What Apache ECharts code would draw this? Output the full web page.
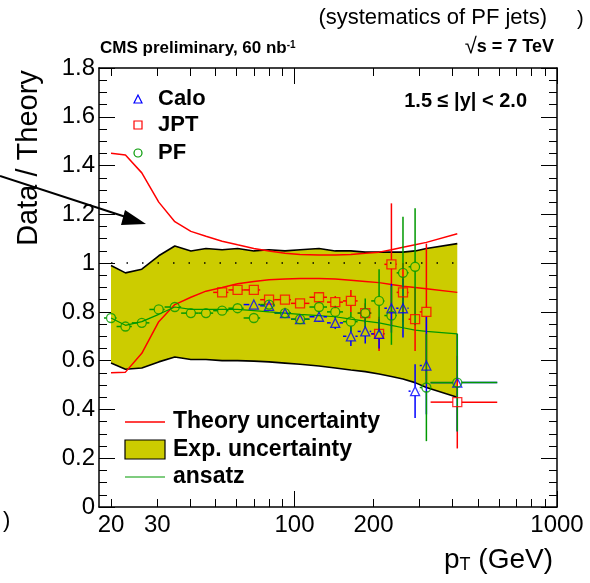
<!DOCTYPE html>
<html><head><meta charset="utf-8">
<script src="https://cdn.jsdelivr.net/npm/echarts@6/dist/echarts.min.js"></script>
<style>html,body{margin:0;padding:0;background:#fff}#c{width:590px;height:583px}</style>
</head><body><div id="c"></div>
<script>
// ---- data ----
const ptBins = [20, 22.7, 26.2, 30.4, 35, 40.3, 46, 53, 60.7, 70, 80, 92, 105, 124, 143, 164, 186, 210, 234, 259, 288, 318, 417];
const binEdges = [18.8, 21, 24, 28, 32, 37, 43, 49, 56, 64, 74, 84, 97, 114, 133, 153, 174, 196, 220, 245, 272, 300, 330, 592];
const expUpper = [0.99, 0.96, 0.975, 1.03, 1.07, 1.05, 1.06, 1.055, 1.06, 1.05, 1.055, 1.05, 1.055, 1.06, 1.05, 1.05, 1.045, 1.045, 1.045, 1.045, 1.05, 1.06, 1.08];
const expLower = [0.59, 0.565, 0.57, 0.595, 0.615, 0.605, 0.605, 0.60, 0.60, 0.598, 0.595, 0.59, 0.585, 0.578, 0.57, 0.562, 0.555, 0.545, 0.535, 0.525, 0.51, 0.49, 0.45];
const theoryUpper = [1.45, 1.443, 1.37, 1.25, 1.17, 1.13, 1.11, 1.09, 1.075, 1.06, 1.05, 1.04, 1.035, 1.033, 1.033, 1.035, 1.04, 1.045, 1.055, 1.065, 1.075, 1.085, 1.12];
const theoryLower = [0.55, 0.553, 0.63, 0.76, 0.83, 0.86, 0.885, 0.90, 0.915, 0.925, 0.932, 0.935, 0.937, 0.937, 0.935, 0.93, 0.925, 0.92, 0.912, 0.905, 0.90, 0.895, 0.88];
const ansatz = [0.775, 0.745, 0.76, 0.79, 0.82, 0.81, 0.81, 0.81, 0.81, 0.805, 0.80, 0.795, 0.79, 0.785, 0.78, 0.77, 0.762, 0.755, 0.745, 0.735, 0.725, 0.72, 0.71];
// PF: all bins
const pfY   = [0.775, 0.74, 0.755, 0.81, 0.82, 0.795, 0.795, 0.805, 0.815, 0.775, 0.83, 0.795, 0.77, 0.82, 0.80, 0.76, 0.795, 0.845, 0.785, 0.96, 0.985, 0.49, 0.51];
const pfErr = [0.01, 0.01, 0.01, 0.01, 0.01, 0.01, 0.01, 0.01, 0.01, 0.01, 0.01, 0.01, 0.015, 0.02, 0.025, 0.04, 0.06, 0.13, 0.12, 0.23, 0.24, 0.22, 0.2];
// JPT: from bin 7 (53 GeV)
const jptStart = 7;
const jptY   = [0.88, 0.89, 0.89, 0.85, 0.85, 0.835, 0.86, 0.84, 0.845, 0.795, 0.71, 0.995, 0.88, 0.77, 0.80, 0.43];
const jptErr = [0.01, 0.01, 0.01, 0.01, 0.01, 0.015, 0.02, 0.025, 0.045, 0.04, 0.07, 0.25, 0.12, 0.13, 0.28, 0.19];
// Calo: from bin 9 (70 GeV)
const caloStart = 9;
const caloY   = [0.83, 0.825, 0.795, 0.77, 0.78, 0.755, 0.70, 0.72, 0.71, 0.815, 0.815, 0.475, 0.58, 0.51];
const caloErr = [0.01, 0.01, 0.01, 0.015, 0.02, 0.025, 0.04, 0.05, 0.06, 0.1, 0.12, 0.11, 0.2, 0.2];
const xLabelValues = [20, 30, 100, 200, 1000];
const xMinorTicks = [20, 30, 40, 50, 60, 70, 80, 90, 200, 300, 400, 500, 600, 700, 800, 900];
const xMajorTicks = [100, 1000];

// ---- build ----
const FONT = "'Liberation Sans', Arial, sans-serif";
const RED = '#ff0000', GREEN = '#009900', BLUE = '#0000ff', BAND = '#cccc00';
const pairs = (ys, start) => ys.map((v, i) => [ptBins[i + (start || 0)], v]);
const errData = (ys, errs, start) => ys.map((v, i) => {
  const k = i + (start || 0);
  return [ptBins[k], v, binEdges[k], binEdges[k + 1], errs[i]];
});

function errRender(color) {
  return function (params, api) {
    const x = api.value(0), y = api.value(1), xl = api.value(2), xh = api.value(3), e = api.value(4);
    const c = api.coord([x, y]);
    const cl = api.coord([xl, y]), ch = api.coord([xh, y]);
    const ct = api.coord([x, y + e]), cb = api.coord([x, y - e]);
    const g = 4.5, ch2 = [];
    const seg = (x1, y1, x2, y2) => ch2.push({ type: 'line', shape: { x1, y1, x2, y2 }, style: { stroke: color, lineWidth: 1.5 } });
    if (c[0] - cl[0] > g) seg(cl[0], c[1], c[0] - g, c[1]);
    if (ch[0] - c[0] > g) seg(c[0] + g, c[1], ch[0], c[1]);
    if (c[1] - ct[1] > g) seg(c[0], ct[1], c[0], c[1] - g);
    if (cb[1] - c[1] > g) seg(c[0], c[1] + g, c[0], cb[1]);
    return { type: 'group', children: ch2 };
  };
}

function bandRender(params, api) {
  if (params.dataIndex !== 0) return null;
  const pts = [];
  for (let i = 0; i < ptBins.length; i++) pts.push(api.coord([ptBins[i], expUpper[i]]));
  for (let i = ptBins.length - 1; i >= 0; i--) pts.push(api.coord([ptBins[i], expLower[i]]));
  return { type: 'polygon', shape: { points: pts }, style: { fill: BAND, stroke: 'none' } };
}

const xBase = { type: 'log', logBase: 10, min: 18, max: 1000, gridIndex: 0, splitLine: { show: false } };
const yBase = { type: 'value', min: 0, max: 1.8, interval: 0.2, gridIndex: 0, splitLine: { show: false } };
const lineAx = { show: true, lineStyle: { color: '#000', width: 1.5 } };

const chart = echarts.init(document.getElementById('c'), null, { renderer: 'canvas' });
chart.setOption({
  animation: false,
  backgroundColor: '#fff',
  grid: { left: 99, right: 33, top: 68, bottom: 76 },
  xAxis: [
    Object.assign({}, xBase, { position: 'bottom', axisLine: lineAx,
      axisTick: { show: true, inside: true, length: 8, customValues: xMinorTicks, lineStyle: { color: '#000', width: 1 } },
      axisLabel: { show: true, customValues: xLabelValues, color: '#000', fontSize: 24, fontFamily: FONT, margin: 6, formatter: v => String(v) } }),
    Object.assign({}, xBase, { position: 'bottom', axisLine: { show: false },
      axisTick: { show: true, inside: true, length: 16, customValues: xMajorTicks, lineStyle: { color: '#000', width: 1 } },
      axisLabel: { show: false } }),
    Object.assign({}, xBase, { position: 'top', axisLine: lineAx,
      axisTick: { show: true, inside: true, length: 8, customValues: xMinorTicks, lineStyle: { color: '#000', width: 1 } },
      axisLabel: { show: false } }),
    Object.assign({}, xBase, { position: 'top', axisLine: { show: false },
      axisTick: { show: true, inside: true, length: 16, customValues: xMajorTicks, lineStyle: { color: '#000', width: 1 } },
      axisLabel: { show: false } })
  ],
  yAxis: [
    Object.assign({}, yBase, { position: 'left', axisLine: lineAx,
      axisTick: { show: true, inside: true, length: 16, lineStyle: { color: '#000', width: 1 } },
      minorTick: { show: true, splitNumber: 4, length: 8, lineStyle: { color: '#000', width: 1 } },
      axisLabel: { show: true, color: '#000', fontSize: 24, fontFamily: FONT, margin: 4, formatter: v => String(+(+v).toFixed(1)) } }),
    Object.assign({}, yBase, { position: 'right', axisLine: lineAx,
      axisTick: { show: true, inside: true, length: 16, lineStyle: { color: '#000', width: 1 } },
      minorTick: { show: true, splitNumber: 4, length: 8, lineStyle: { color: '#000', width: 1 } },
      axisLabel: { show: false } })
  ],
  series: [
    { type: 'custom', name: 'Exp. uncertainty', renderItem: bandRender, data: pairs(expUpper), z: 1, silent: true },
    { type: 'line', name: 'band upper', data: pairs(expUpper), showSymbol: false, symbol: 'none', lineStyle: { color: '#000', width: 1.6 }, z: 2 },
    { type: 'line', name: 'band lower', data: pairs(expLower), showSymbol: false, symbol: 'none', lineStyle: { color: '#000', width: 1.6 }, z: 2 },
    { type: 'line', name: 'unity', data: [[ptBins[0], 1], [ptBins[ptBins.length - 1], 1]], symbol: 'none', lineStyle: { color: '#000', width: 1.5, type: [1.5, 14] }, z: 2 },
    { type: 'line', name: 'Theory upper', data: pairs(theoryUpper), symbol: 'none', lineStyle: { color: RED, width: 1.5 }, z: 3 },
    { type: 'line', name: 'Theory lower', data: pairs(theoryLower), symbol: 'none', lineStyle: { color: RED, width: 1.5 }, z: 3 },
    { type: 'line', name: 'ansatz', data: pairs(ansatz), symbol: 'none', lineStyle: { color: GREEN, width: 1.2 }, z: 3 },
    { type: 'custom', name: 'JPT err', renderItem: errRender(RED), data: errData(jptY, jptErr, jptStart), z: 4 },
    { type: 'custom', name: 'Calo err', renderItem: errRender(BLUE), data: errData(caloY, caloErr, caloStart), z: 4 },
    { type: 'custom', name: 'PF err', renderItem: errRender(GREEN), data: errData(pfY, pfErr, 0), z: 4 },
    { type: 'scatter', name: 'JPT', data: pairs(jptY, jptStart), symbol: 'rect', symbolSize: 9, itemStyle: { color: 'rgba(0,0,0,0)', borderColor: RED, borderWidth: 1.3 }, z: 5 },
    { type: 'scatter', name: 'Calo', data: pairs(caloY, caloStart), symbol: 'triangle', symbolSize: 9, itemStyle: { color: 'rgba(0,0,0,0)', borderColor: BLUE, borderWidth: 1.3 }, z: 5 },
    { type: 'scatter', name: 'PF', data: pairs(pfY, 0), symbol: 'circle', symbolSize: 9, itemStyle: { color: 'rgba(0,0,0,0)', borderColor: GREEN, borderWidth: 1.3 }, z: 5 }
  ],
  graphic: [
    // header texts
    { type: 'text', x: 547, y: 7, style: { text: '(systematics of PF jets)', font: '22px ' + FONT, fill: '#000', textAlign: 'right' } },
    { type: 'text', x: 577, y: 9, style: { text: ')', font: '20px ' + FONT, fill: '#000' } },
    { type: 'text', x: 100, y: 40, style: { rich: { a: { font: 'bold 17px ' + FONT, fill: '#000' }, s: { font: 'bold 10px ' + FONT, fill: '#000', verticalAlign: 'top', lineHeight: 10 } }, text: '{a|CMS preliminary, 60 nb}{s|-1}' } },
    { type: 'text', x: 554, y: 36, style: { rich: { r: { font: '22px ' + FONT, fill: '#000' }, a: { font: 'bold 18px ' + FONT, fill: '#000' } }, text: '{r|\u221A}{a|s = 7 TeV}', textAlign: 'right' } },
    { type: 'text', x: 527, y: 91, style: { text: '1.5 \u2264 |y| < 2.0', font: 'bold 20px ' + FONT, fill: '#000', textAlign: 'right' } },
    // axis titles
    { type: 'text', x: 29, y: 158, rotation: Math.PI / 2, style: { text: 'Data / Theory', font: '29px ' + FONT, fill: '#000', textAlign: 'center', textVerticalAlign: 'middle' } },
    { type: 'text', x: 553, y: 546, style: { rich: { a: { font: '28px ' + FONT, fill: '#000' }, b: { font: '18px ' + FONT, fill: '#000', verticalAlign: 'bottom' } }, text: '{a|p}{b|T}{a| (GeV)}', textAlign: 'right' } },
    { type: 'text', x: 3, y: 510, style: { text: ')', font: '22px ' + FONT, fill: '#000' } },
    // arrow
    { type: 'line', shape: { x1: 0, y1: 176, x2: 132, y2: 219 }, style: { stroke: '#000', lineWidth: 2 } },
    { type: 'polygon', shape: { points: [[146, 224], [125, 210], [121, 225]] }, style: { fill: '#000' } },
    // marker legend
    { type: 'polygon', shape: { points: [[138, 95], [134, 103], [142, 103]] }, style: { fill: 'none', stroke: BLUE, lineWidth: 1.2 } },
    { type: 'rect', shape: { x: 134, y: 121, width: 8, height: 8 }, style: { fill: 'none', stroke: RED, lineWidth: 1.2 } },
    { type: 'circle', shape: { cx: 138, cy: 153, r: 4 }, style: { fill: 'none', stroke: GREEN, lineWidth: 1.2 } },
    { type: 'text', x: 158, y: 99, style: { text: 'Calo', font: 'bold 22px ' + FONT, fill: '#000', textVerticalAlign: 'middle' } },
    { type: 'text', x: 158, y: 125, style: { text: 'JPT', font: 'bold 22px ' + FONT, fill: '#000', textVerticalAlign: 'middle' } },
    { type: 'text', x: 158, y: 153, style: { text: 'PF', font: 'bold 22px ' + FONT, fill: '#000', textVerticalAlign: 'middle' } },
    // bottom legend
    { type: 'line', shape: { x1: 125, y1: 422, x2: 165, y2: 422 }, style: { stroke: RED, lineWidth: 1.5 } },
    { type: 'rect', shape: { x: 125, y: 440, width: 40, height: 19 }, style: { fill: BAND, stroke: '#000', lineWidth: 1.2 } },
    { type: 'line', shape: { x1: 125, y1: 477, x2: 165, y2: 477 }, style: { stroke: GREEN, lineWidth: 1.2 } },
    { type: 'text', x: 173, y: 422, style: { text: 'Theory uncertainty', font: 'bold 23px ' + FONT, fill: '#000', textVerticalAlign: 'middle' } },
    { type: 'text', x: 173, y: 450, style: { text: 'Exp. uncertainty', font: 'bold 23px ' + FONT, fill: '#000', textVerticalAlign: 'middle' } },
    { type: 'text', x: 173, y: 477, style: { text: 'ansatz', font: 'bold 23px ' + FONT, fill: '#000', textVerticalAlign: 'middle' } }
  ]
});
</script>
</body></html>
